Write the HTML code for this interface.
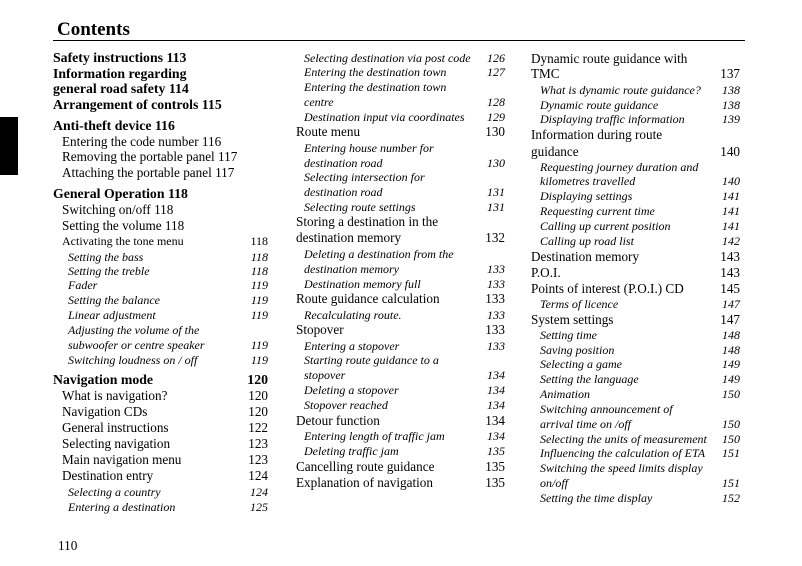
<!DOCTYPE html>
<html><head><meta charset="utf-8"><style>
body{margin:0;width:802px;height:566px;background:#fff;position:relative;overflow:hidden;font-family:"Liberation Serif",serif;color:#000}
div{position:absolute;white-space:nowrap;line-height:16px}
.r{font-size:13.2px}
.i{font-style:italic;font-size:12px}
.b{font-weight:bold;font-size:13.8px}
.s{font-size:12px}
.n1{right:534px;text-align:right}
.n2{right:297px;text-align:right}
.n3{right:62px;text-align:right}
</style></head><body>
<div style="left:57px;top:18px;font-size:19px;font-weight:bold;line-height:24px">Contents</div>
<div style="left:53px;top:40px;width:692px;height:1px;background:#000"></div>
<div style="left:0;top:117px;width:18px;height:58px;background:#000"></div>

<div class="b" style="left:53px;top:50px">Safety instructions 113</div>
<div class="b" style="left:53px;top:66px">Information regarding</div>
<div class="b" style="left:53px;top:81px">general road safety 114</div>
<div class="b" style="left:53px;top:97px">Arrangement of controls 115</div>
<div class="b" style="left:53px;top:118px">Anti-theft device 116</div>
<div class="r" style="left:62px;top:134px">Entering the code number 116</div>
<div class="r" style="left:62px;top:149px">Removing the portable panel 117</div>
<div class="r" style="left:62px;top:165px">Attaching the portable panel 117</div>
<div class="b" style="left:53px;top:186px">General Operation 118</div>
<div class="r" style="left:62px;top:202px">Switching on/off 118</div>
<div class="r" style="left:62px;top:218px">Setting the volume 118</div>
<div class="s" style="left:62px;top:233px">Activating the tone menu</div><div class="s n1" style="top:233px">118</div>
<div class="i" style="left:68px;top:249px">Setting the bass</div><div class="i n1" style="top:249px">118</div>
<div class="i" style="left:68px;top:263px">Setting the treble</div><div class="i n1" style="top:263px">118</div>
<div class="i" style="left:68px;top:277px">Fader</div><div class="i n1" style="top:277px">119</div>
<div class="i" style="left:68px;top:292px">Setting the balance</div><div class="i n1" style="top:292px">119</div>
<div class="i" style="left:68px;top:307px">Linear adjustment</div><div class="i n1" style="top:307px">119</div>
<div class="i" style="left:68px;top:322px">Adjusting the volume of the</div>
<div class="i" style="left:68px;top:337px">subwoofer or centre speaker</div><div class="i n1" style="top:337px">119</div>
<div class="i" style="left:68px;top:352px">Switching loudness on / off</div><div class="i n1" style="top:352px">119</div>
<div class="b" style="left:53px;top:372px">Navigation mode</div><div class="b n1" style="top:372px">120</div>
<div class="r" style="left:62px;top:388px">What is navigation?</div><div class="r n1" style="top:388px">120</div>
<div class="r" style="left:62px;top:404px">Navigation CDs</div><div class="r n1" style="top:404px">120</div>
<div class="r" style="left:62px;top:420px">General instructions</div><div class="r n1" style="top:420px">122</div>
<div class="r" style="left:62px;top:436px">Selecting navigation</div><div class="r n1" style="top:436px">123</div>
<div class="r" style="left:62px;top:452px">Main navigation menu</div><div class="r n1" style="top:452px">123</div>
<div class="r" style="left:62px;top:468px">Destination entry</div><div class="r n1" style="top:468px">124</div>
<div class="i" style="left:68px;top:484px">Selecting a country</div><div class="i n1" style="top:484px">124</div>
<div class="i" style="left:68px;top:499px">Entering a destination</div><div class="i n1" style="top:499px">125</div>
<div class="r" style="left:58px;top:538px">110</div>

<div class="i" style="left:304px;top:50px">Selecting destination via post code</div><div class="i n2" style="top:50px">126</div>
<div class="i" style="left:304px;top:64px">Entering the destination town</div><div class="i n2" style="top:64px">127</div>
<div class="i" style="left:304px;top:79px">Entering the destination town</div>
<div class="i" style="left:304px;top:94px">centre</div><div class="i n2" style="top:94px">128</div>
<div class="i" style="left:304px;top:109px">Destination input via coordinates</div><div class="i n2" style="top:109px">129</div>
<div class="r" style="left:296px;top:124px">Route menu</div><div class="r n2" style="top:124px">130</div>
<div class="i" style="left:304px;top:140px">Entering house number for</div>
<div class="i" style="left:304px;top:155px">destination road</div><div class="i n2" style="top:155px">130</div>
<div class="i" style="left:304px;top:169px">Selecting intersection for</div>
<div class="i" style="left:304px;top:184px">destination road</div><div class="i n2" style="top:184px">131</div>
<div class="i" style="left:304px;top:199px">Selecting route settings</div><div class="i n2" style="top:199px">131</div>
<div class="r" style="left:296px;top:214px">Storing a destination in the</div>
<div class="r" style="left:296px;top:230px">destination memory</div><div class="r n2" style="top:230px">132</div>
<div class="i" style="left:304px;top:246px">Deleting a destination from the</div>
<div class="i" style="left:304px;top:261px">destination memory</div><div class="i n2" style="top:261px">133</div>
<div class="i" style="left:304px;top:276px">Destination memory full</div><div class="i n2" style="top:276px">133</div>
<div class="r" style="left:296px;top:291px">Route guidance calculation</div><div class="r n2" style="top:291px">133</div>
<div class="i" style="left:304px;top:307px">Recalculating route.</div><div class="i n2" style="top:307px">133</div>
<div class="r" style="left:296px;top:322px">Stopover</div><div class="r n2" style="top:322px">133</div>
<div class="i" style="left:304px;top:338px">Entering a stopover</div><div class="i n2" style="top:338px">133</div>
<div class="i" style="left:304px;top:352px">Starting route guidance to a</div>
<div class="i" style="left:304px;top:367px">stopover</div><div class="i n2" style="top:367px">134</div>
<div class="i" style="left:304px;top:382px">Deleting a stopover</div><div class="i n2" style="top:382px">134</div>
<div class="i" style="left:304px;top:397px">Stopover reached</div><div class="i n2" style="top:397px">134</div>
<div class="r" style="left:296px;top:413px">Detour function</div><div class="r n2" style="top:413px">134</div>
<div class="i" style="left:304px;top:428px">Entering length of traffic jam</div><div class="i n2" style="top:428px">134</div>
<div class="i" style="left:304px;top:443px">Deleting traffic jam</div><div class="i n2" style="top:443px">135</div>
<div class="r" style="left:296px;top:459px">Cancelling route guidance</div><div class="r n2" style="top:459px">135</div>
<div class="r" style="left:296px;top:475px">Explanation of navigation</div><div class="r n2" style="top:475px">135</div>

<div class="r" style="left:531px;top:51px">Dynamic route guidance with</div>
<div class="r" style="left:531px;top:66px">TMC</div><div class="r n3" style="top:66px">137</div>
<div class="i" style="left:540px;top:82px">What is dynamic route guidance?</div><div class="i n3" style="top:82px">138</div>
<div class="i" style="left:540px;top:97px">Dynamic route guidance</div><div class="i n3" style="top:97px">138</div>
<div class="i" style="left:540px;top:111px">Displaying traffic information</div><div class="i n3" style="top:111px">139</div>
<div class="r" style="left:531px;top:127px">Information during route</div>
<div class="r" style="left:531px;top:144px">guidance</div><div class="r n3" style="top:144px">140</div>
<div class="i" style="left:540px;top:159px">Requesting journey duration and</div>
<div class="i" style="left:540px;top:173px">kilometres travelled</div><div class="i n3" style="top:173px">140</div>
<div class="i" style="left:540px;top:188px">Displaying settings</div><div class="i n3" style="top:188px">141</div>
<div class="i" style="left:540px;top:203px">Requesting current time</div><div class="i n3" style="top:203px">141</div>
<div class="i" style="left:540px;top:218px">Calling up current position</div><div class="i n3" style="top:218px">141</div>
<div class="i" style="left:540px;top:233px">Calling up road list</div><div class="i n3" style="top:233px">142</div>
<div class="r" style="left:531px;top:249px">Destination memory</div><div class="r n3" style="top:249px">143</div>
<div class="r" style="left:531px;top:265px">P.O.I.</div><div class="r n3" style="top:265px">143</div>
<div class="r" style="left:531px;top:281px">Points of interest (P.O.I.) CD</div><div class="r n3" style="top:281px">145</div>
<div class="i" style="left:540px;top:296px">Terms of licence</div><div class="i n3" style="top:296px">147</div>
<div class="r" style="left:531px;top:312px">System settings</div><div class="r n3" style="top:312px">147</div>
<div class="i" style="left:540px;top:327px">Setting time</div><div class="i n3" style="top:327px">148</div>
<div class="i" style="left:540px;top:342px">Saving position</div><div class="i n3" style="top:342px">148</div>
<div class="i" style="left:540px;top:356px">Selecting a game</div><div class="i n3" style="top:356px">149</div>
<div class="i" style="left:540px;top:371px">Setting the language</div><div class="i n3" style="top:371px">149</div>
<div class="i" style="left:540px;top:386px">Animation</div><div class="i n3" style="top:386px">150</div>
<div class="i" style="left:540px;top:401px">Switching announcement of</div>
<div class="i" style="left:540px;top:416px">arrival time on /off</div><div class="i n3" style="top:416px">150</div>
<div class="i" style="left:540px;top:431px">Selecting the units of measurement</div><div class="i n3" style="top:431px">150</div>
<div class="i" style="left:540px;top:445px">Influencing the calculation of ETA</div><div class="i n3" style="top:445px">151</div>
<div class="i" style="left:540px;top:460px">Switching the speed limits display</div>
<div class="i" style="left:540px;top:475px">on/off</div><div class="i n3" style="top:475px">151</div>
<div class="i" style="left:540px;top:490px">Setting the time display</div><div class="i n3" style="top:490px">152</div>
</body></html>
